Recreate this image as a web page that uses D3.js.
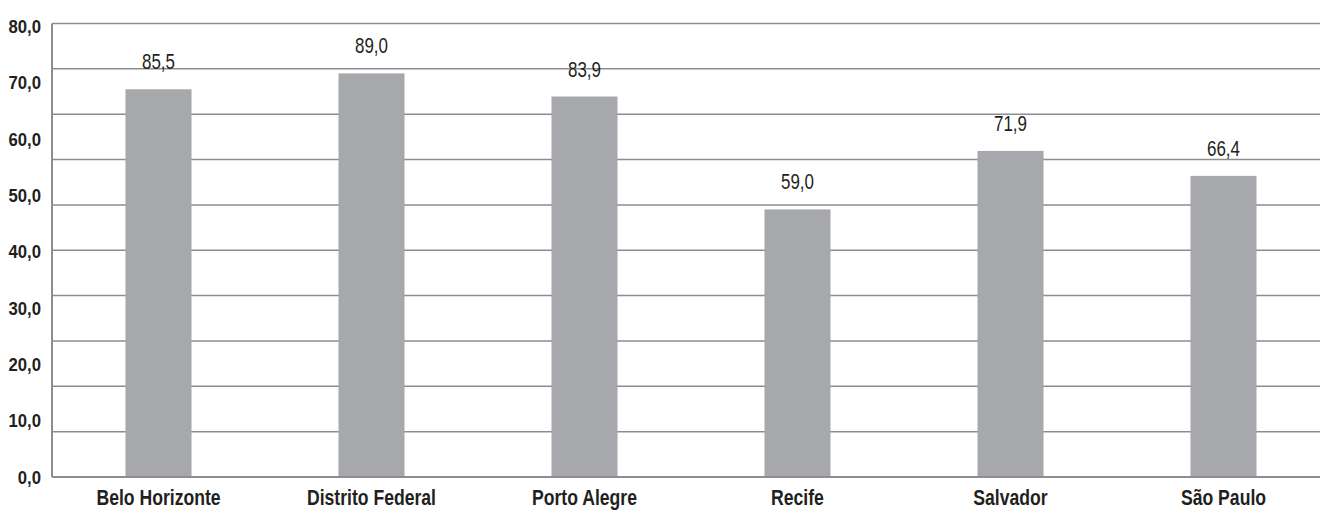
<!DOCTYPE html>
<html>
<head>
<meta charset="utf-8">
<script src="https://cdn.jsdelivr.net/npm/d3@7"></script>
<style>
  body { margin: 0; background: #fff; }
  text { font-family: "Liberation Sans", Arial, sans-serif; fill: #231f20; }
</style>
</head>
<body>
<div id="chart"></div>
<script>
// --- données ---
const cidades = ["Belo Horizonte", "Distrito Federal", "Porto Alegre", "Recife", "Salvador", "São Paulo"];
const valores = [85.5, 89.0, 83.9, 59.0, 71.9, 66.4];
const rotulosEixo = ["0,0", "10,0", "20,0", "30,0", "40,0", "50,0", "60,0", "70,0", "80,0"];
const grade = [0, 10, 20, 30, 40, 50, 60, 70, 80, 90, 100];

const largeur = 1320, hauteur = 510;

const svg = d3.select("#chart").append("svg")
  .attr("width", largeur)
  .attr("height", hauteur);

// échelles
const x = d3.scaleBand().domain(cidades).range([52, 1330]).paddingInner(0.69).paddingOuter(0.345);
const y = d3.scaleLinear().domain([0, 100]).range([477, 23.5]);
// les étiquettes de l'axe sont réparties sur toute la hauteur (0 à 80)
const yLabel = d3.scalePoint().domain(rotulosEixo).range([477, 26]);

// police condensée simulée par un scaleX
const pos = (px, py, s) => `translate(${px},${py}) scale(${s},1)`;

// grille
svg.append("g")
  .selectAll("line")
  .data(grade)
  .join("line")
  .attr("x1", 52).attr("x2", largeur)
  .attr("y1", d => y(d)).attr("y2", d => y(d))
  .attr("stroke", "#8d8d8f")
  .attr("stroke-width", 1.5);

// barres
svg.append("g")
  .selectAll("rect")
  .data(valores)
  .join("rect")
  .attr("x", (d, i) => x(cidades[i]))
  .attr("width", x.bandwidth())
  .attr("y", d => y(d))
  .attr("height", d => y(0) - y(d))
  .attr("fill", "#a7a8ab");

// axe vertical
svg.append("line")
  .attr("x1", 52).attr("x2", 52)
  .attr("y1", y(100)).attr("y2", y(0))
  .attr("stroke", "#8d8d8f")
  .attr("stroke-width", 2);

// ligne de base
svg.append("line")
  .attr("x1", 52).attr("x2", largeur)
  .attr("y1", y(0)).attr("y2", y(0))
  .attr("stroke", "#8d8d8f")
  .attr("stroke-width", 2);

// étiquettes de l'axe Y
svg.append("g")
  .selectAll("text")
  .data(rotulosEixo)
  .join("text")
  .attr("transform", d => pos(41, yLabel(d), 0.88))
  .attr("dy", "0.36em")
  .attr("text-anchor", "end")
  .attr("font-size", 19)
  .attr("font-weight", "bold")
  .text(d => d);

// valeurs au-dessus des barres
const fmt = v => v.toFixed(1).replace(".", ",");
svg.append("g")
  .selectAll("text")
  .data(valores)
  .join("text")
  .attr("transform", (d, i) => pos(x(cidades[i]) + x.bandwidth() / 2, y(d) - 20, 0.77))
  .attr("text-anchor", "middle")
  .attr("font-size", 22)
  .text(d => fmt(d));

// noms des villes
svg.append("g")
  .selectAll("text")
  .data(cidades)
  .join("text")
  .attr("transform", d => pos(x(d) + x.bandwidth() / 2, 505, 0.8))
  .attr("text-anchor", "middle")
  .attr("font-size", 22)
  .attr("font-weight", "bold")
  .text(d => d);
</script>
</body>
</html>
